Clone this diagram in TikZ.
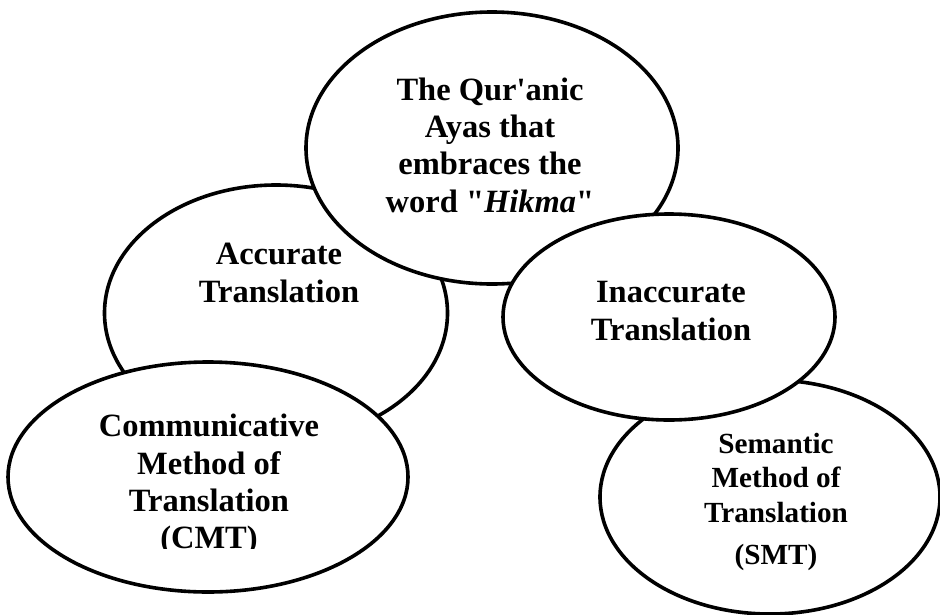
\documentclass[tikz,border=0pt]{standalone}
\usepackage{fontspec}
\newfontfamily\boxfont{Liberation Serif}
\usetikzlibrary{shapes.geometric}

\tikzset{
    oval/.style={ellipse, draw, fill=white, line width=3.6pt, inner sep=0pt},
    lbl/.style={align=center, inner sep=0pt, font=\boxfont\bfseries\fontsize{32.5}{37.3}\selectfont},
}

\begin{document}
\begin{tikzpicture}[x=1pt, y=-1pt]
    \useasboundingbox (0,0) rectangle (940,614);
    \clip (0,0) rectangle (940,614);

    % ovals, back to front
    \node[oval, minimum width=343, minimum height=256] (acc) at (276,313) {};
    \node[oval, minimum width=400, minimum height=230] (cmt) at (208,477) {};
    \node[oval, minimum width=372, minimum height=272] (ayas) at (492,148) {};
    \node[oval, minimum width=340, minimum height=234] (smt) at (770,497) {};
    \node[oval, minimum width=332, minimum height=206] (inacc) at (669,317) {};

    % labels
    \node[lbl] (ayastext) at (490,145) {The Qur'anic\\Ayas that\\embraces the\\word "\textit{Hikma}"};
    \node[lbl] (acctext) at (279,273) {Accurate\\Translation};
    \node[lbl] (inacctext) at (671,311) {Inaccurate\\Translation};
    \begin{scope}
        \clip (0,0) rectangle (940,548);
        \node[lbl] (cmttext) at (209,485) {Communicative\\Method of\\Translation\\(CMT)};
    \end{scope}
    \node[lbl, font=\boxfont\bfseries\fontsize{29.2}{34.5}\selectfont] (smttext) at (776,502)
        {Semantic\\Method of\\Translation\\[8pt](SMT)};
\end{tikzpicture}
\end{document}
